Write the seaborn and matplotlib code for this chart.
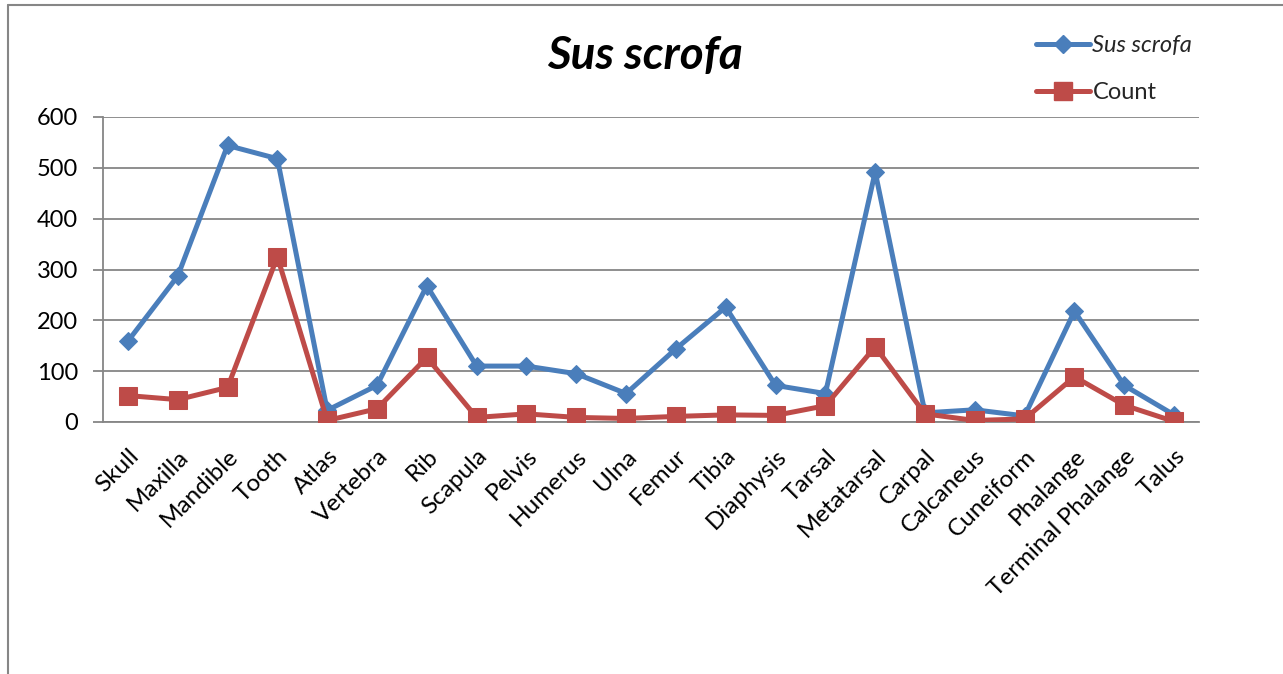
import numpy as np
import pandas as pd
import matplotlib
matplotlib.use("Agg")
import matplotlib.pyplot as plt
from matplotlib.lines import Line2D
import seaborn as sns

categories = ["Skull", "Maxilla", "Mandible", "Tooth", "Atlas", "Vertebra", "Rib",
              "Scapula", "Pelvis", "Humerus", "Ulna", "Femur", "Tibia", "Diaphysis",
              "Tarsal", "Metatarsal", "Carpal", "Calcaneus", "Cuneiform", "Phalange",
              "Terminal Phalange", "Talus"]
sus_scrofa = [159, 287, 544, 518, 23, 72, 268, 110, 110, 95, 56, 144, 226, 72,
              56, 492, 18, 24, 12, 218, 72, 14]
count = [52, 44, 68, 325, 3, 26, 127, 9, 16, 9, 7, 11, 14, 13,
         32, 148, 16, 3, 6, 89, 33, 1]
y_ticks = [0, 100, 200, 300, 400, 500, 600]

BLUE = "#4A7EBB"
RED = "#BE4B48"
GRID = "#868686"

sns.set_theme(style="white")
plt.rcParams["font.family"] = ["Lato", "DejaVu Sans"]

fig = plt.figure(figsize=(12.83, 6.74), dpi=100)
ax = fig.add_axes([103 / 1283, 1 - 422 / 674, 1096 / 1283, 305 / 674])

df1 = pd.DataFrame({"cat": categories, "val": sus_scrofa})
df2 = pd.DataFrame({"cat": categories, "val": count})
sns.lineplot(data=df1, x="cat", y="val", ax=ax, color=BLUE, lw=3.6, marker="D",
             markersize=9, markeredgecolor=BLUE, sort=False, zorder=3)
sns.lineplot(data=df2, x="cat", y="val", ax=ax, color=RED, lw=3.6, marker="s",
             markersize=12.5, markeredgecolor=RED, sort=False, zorder=4)

ax.set_xlim(-0.5, len(categories) - 0.5)
ax.set_ylim(0, 600)
ax.set_yticks(y_ticks)
ax.set_yticklabels([str(v) for v in y_ticks], fontsize=17)
ax.set_xticks(range(len(categories)))
ax.set_xticklabels(categories, rotation=45, ha="right", rotation_mode="anchor", fontsize=17.5)
ax.set_xticks(np.arange(-0.5, len(categories), 1.0), minor=True)
ax.tick_params(axis="x", which="major", length=0, pad=17)
ax.tick_params(axis="x", which="minor", length=7, width=1.3, color=GRID, direction="out")
ax.tick_params(axis="y", length=7, width=1.3, color=GRID, direction="out", left=True, pad=11)
ax.set_xlabel("")
ax.set_ylabel("")
ax.grid(axis="y", color=GRID, lw=1.3)
ax.grid(axis="x", visible=False)
for s in ["top", "right"]:
    ax.spines[s].set_visible(False)
for s in ["left", "bottom"]:
    ax.spines[s].set_color(GRID)
    ax.spines[s].set_linewidth(1.3)
for lbl in ax.get_yticklabels() + ax.get_xticklabels():
    lbl.set_color("black")

fig.text(645 / 1283, 1 - 56 / 674, "Sus scrofa", fontsize=33, fontweight="bold",
         fontstyle="italic", ha="center", va="center", color="black")

handles = [Line2D([], [], color=BLUE, lw=3.6, marker="D", markersize=9),
           Line2D([], [], color=RED, lw=3.6, marker="s", markersize=12.5)]
leg = fig.legend(handles, ["Sus scrofa", "Count"], loc="upper left",
                 bbox_to_anchor=(1024 / 1283, 1 - 23 / 674), frameon=False, fontsize=17,
                 handlelength=2.3, handletextpad=0.1, labelspacing=1.1, borderpad=0)
leg.get_texts()[0].set_fontstyle("italic")

# outer chart border (top and left visible)
fig.add_artist(Line2D([8 / 1283, 1.0], [1 - 5 / 674, 1 - 5 / 674], transform=fig.transFigure,
                      color=GRID, lw=1.5))
fig.add_artist(Line2D([8 / 1283, 8 / 1283], [0, 1 - 5 / 674], transform=fig.transFigure,
                      color=GRID, lw=1.5))

fig.savefig("out.png", dpi=100, facecolor="white")
